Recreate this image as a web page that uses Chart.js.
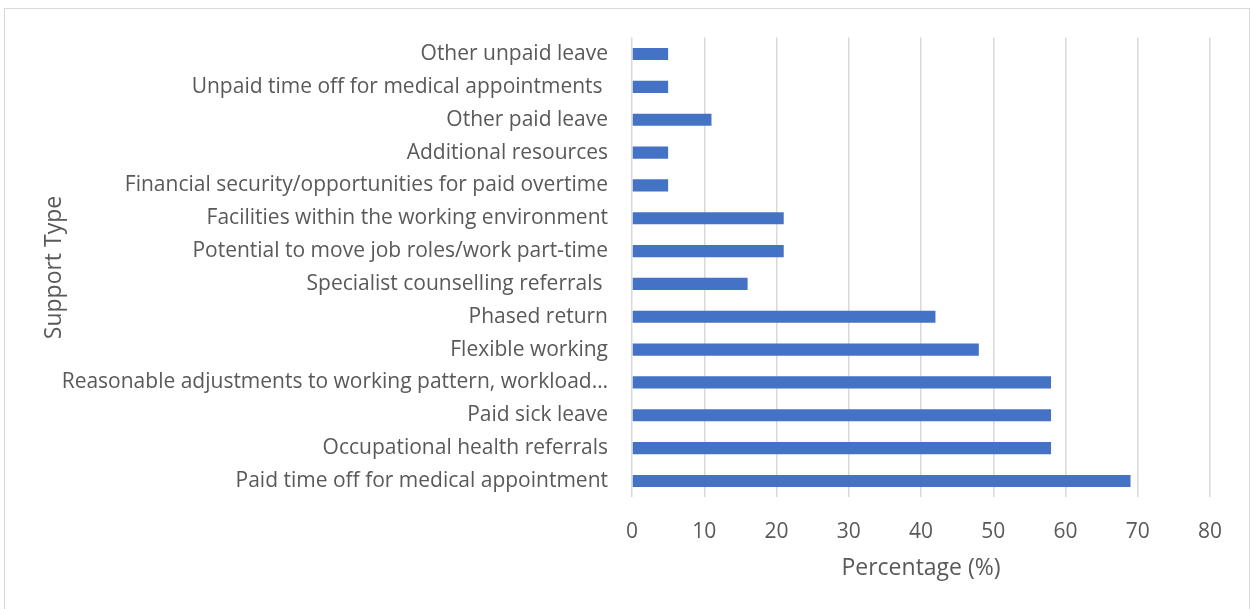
<!DOCTYPE html>
<html>
<head>
<meta charset="utf-8">
<script src="https://cdn.jsdelivr.net/npm/chart.js@4"></script>
<style>
    html, body { margin: 0; padding: 0; background: #fff; }
    #wrap { position: relative; width: 1251px; height: 609px; overflow: hidden; }
    #frame {
        position: absolute; left: 4px; top: 8px; width: 1246px; height: 620px;
        border: 1px solid #d9d9d9; box-sizing: border-box;
    }
    canvas { position: absolute; left: 0; top: 0; }
</style>
</head>
<body>
<div id="wrap">
    <div id="frame"></div>
    <canvas id="supportChart" width="1251" height="609"></canvas>
</div>
<script>
// support types, listed top to bottom
const supportTypes = [
    'Other unpaid leave',
    'Unpaid time off for medical appointments ',
    'Other paid leave',
    'Additional resources',
    'Financial security/opportunities for paid overtime',
    'Facilities within the working environment',
    'Potential to move job roles/work part-time',
    'Specialist counselling referrals ',
    'Phased return',
    'Flexible working',
    'Reasonable adjustments to working pattern, workload\u2026',
    'Paid sick leave',
    'Occupational health referrals',
    'Paid time off for medical appointment'
];

const percentages = [5, 5, 11, 5, 5, 21, 21, 16, 42, 48, 58, 58, 58, 69];

const xTicks = [0, 10, 20, 30, 40, 50, 60, 70, 80];

const TEXT = '#595959';
const FONT = "'Open Sans', sans-serif";

new Chart(document.getElementById('supportChart'), {
    type: 'bar',
    data: {
        labels: supportTypes,
        datasets: [{
            data: percentages,
            backgroundColor: '#4472C4',
            barPercentage: 0.37,
            categoryPercentage: 1.0
        }]
    },
    options: {
        indexAxis: 'y',
        responsive: false,
        animation: false,
        layout: { padding: { left: 0, top: 37.6, right: 41, bottom: 0 } },
        plugins: {
            legend: { display: false },
            tooltip: { enabled: false }
        },
        scales: {
            x: {
                min: xTicks[0],
                max: xTicks[xTicks.length - 1],
                afterBuildTicks: axis => { axis.ticks = xTicks.map(v => ({ value: v })); },
                afterFit: axis => { axis.height = 609 - 497.4; },
                grid: { color: '#d9d9d9', lineWidth: 1.5, drawTicks: false },
                border: { display: false },
                ticks: { color: TEXT, padding: 22, font: { family: FONT, size: 21 } },
                title: {
                    display: true,
                    text: 'Percentage (%)',
                    color: TEXT,
                    font: { family: FONT, size: 23 },
                    padding: { top: 0, bottom: 27 }
                }
            },
            y: {
                afterFit: axis => { axis.width = 632; },
                grid: { display: false, drawTicks: false },
                border: { display: false },
                ticks: { color: TEXT, padding: 24, autoSkip: false, font: { family: FONT, size: 21 } },
                title: {
                    display: true,
                    text: 'Support Type',
                    color: TEXT,
                    font: { family: FONT, size: 23 },
                    padding: { top: 41, bottom: 0 }
                }
            }
        }
    }
});
</script>
</body>
</html>
